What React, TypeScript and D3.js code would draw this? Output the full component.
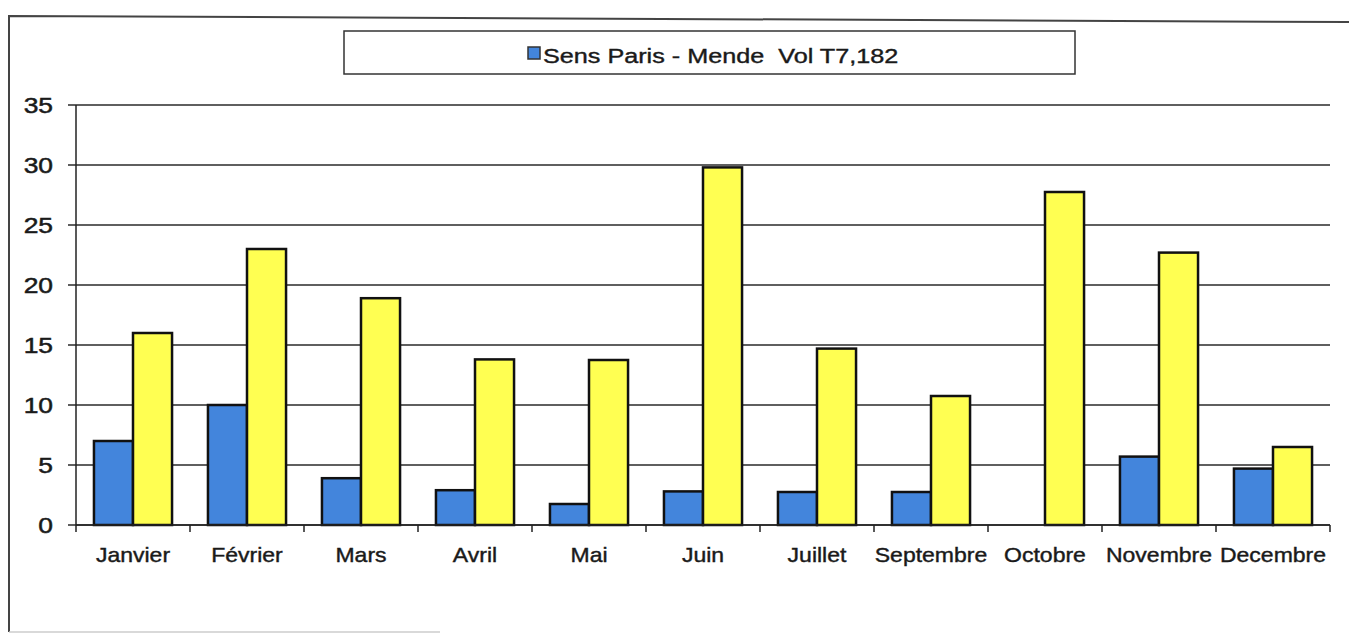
import React from "react";
import * as d3 from "d3";

const months = ["Janvier", "Février", "Mars", "Avril", "Mai", "Juin", "Juillet", "Septembre", "Octobre", "Novembre", "Decembre"];
const parisMende = [7, 10, 3.9, 2.9, 1.75, 2.8, 2.75, 2.75, 0, 5.7, 4.7];
const mendeParis = [16, 23, 18.9, 13.8, 13.75, 29.8, 14.7, 10.75, 27.75, 22.7, 6.5];
const yTicks = [0, 5, 10, 15, 20, 25, 30, 35];
const legendLabel = "Sens Paris - Mende  Vol T7,182";

const width = 1349;
const height = 635;
const marginLeft = 76;
const marginRight = 19;
const marginTop = 105;
const marginBottom = 110;

const font = "'Liberation Sans', Arial, sans-serif";
const ink = "#1a1a1a";
const blue = "#4385dc";
const yellow = "#ffff52";

export default function App() {
  const x = d3.scaleBand<string>().domain(months).range([marginLeft, width - marginRight]);
  const sub = d3
    .scaleBand<string>()
    .domain(["pm", "mp"])
    .range([0, x.bandwidth()])
    .paddingInner(0)
    .paddingOuter(0.46);
  const y = d3.scaleLinear().domain([0, 35]).range([height - marginBottom, marginTop]);

  const y0 = y(0);
  const right = width - marginRight;

  return (
    <svg
      width={width}
      height={height}
      style={{ position: "absolute", left: 0, top: 0, background: "#fff" }}
      fontFamily={font}
    >
      {/* outer frame (scanned page edge) */}
      <path d={`M9,632 L9,16 L1349,22`} fill="none" stroke="#444" strokeWidth={2} />
      <line x1={9} y1={632} x2={440} y2={632} stroke="#ccc" strokeWidth={1.5} />

      {/* legend */}
      <rect x={344} y={31} width={731} height={43} fill="#fff" stroke="#333" strokeWidth={1.5} />
      <rect x={528} y={47} width={12} height={12} fill={blue} stroke="#333" strokeWidth={1.5} />
      <text
        transform="translate(543,63) scale(1.2,1)"
        fontSize={21}
        fill={ink}
        stroke={ink}
        strokeWidth={0.4}
        style={{ whiteSpace: "pre" }}
      >
        {legendLabel}
      </text>

      {/* gridlines and y axis ticks */}
      {yTicks.map((t) => (
        <g key={t}>
          <line x1={68} x2={right} y1={y(t)} y2={y(t)} stroke="#2a2a2a" strokeWidth={1.6} />
          <text
            transform={`translate(53,${y(t) + 8}) scale(1.2,1)`}
            textAnchor="end"
            fontSize={22}
            fill={ink}
            stroke={ink}
            strokeWidth={0.5}
          >
            {t}
          </text>
        </g>
      ))}
      <line x1={marginLeft} x2={marginLeft} y1={y(35)} y2={y0} stroke="#222" strokeWidth={1.5} />

      {/* bars */}
      {months.map((m, i) => (
        <g key={m} transform={`translate(${x(m)},0)`} stroke="#111" strokeWidth={2.5}>
          {parisMende[i] > 0 && (
            <rect
              x={sub("pm")}
              y={y(parisMende[i])}
              width={sub.bandwidth()}
              height={y0 - y(parisMende[i])}
              fill={blue}
            />
          )}
          <rect
            x={sub("mp")}
            y={y(mendeParis[i])}
            width={sub.bandwidth()}
            height={y0 - y(mendeParis[i])}
            fill={yellow}
          />
        </g>
      ))}

      {/* x axis */}
      <line x1={marginLeft} x2={right} y1={y0} y2={y0} stroke="#222" strokeWidth={1.5} />
      {months.concat([""]).map((m, i) => {
        const tx = i < months.length ? (x(m) as number) : right;
        return <line key={i} x1={tx} x2={tx} y1={y0} y2={y0 + 7} stroke="#222" strokeWidth={1.5} />;
      })}
      {months.map((m) => (
        <text
          key={m}
          transform={`translate(${(x(m) as number) + x.bandwidth() / 2},562) scale(1.15,1)`}
          textAnchor="middle"
          fontSize={20}
          fill={ink}
          stroke={ink}
          strokeWidth={0.4}
        >
          {m}
        </text>
      ))}
    </svg>
  );
}
